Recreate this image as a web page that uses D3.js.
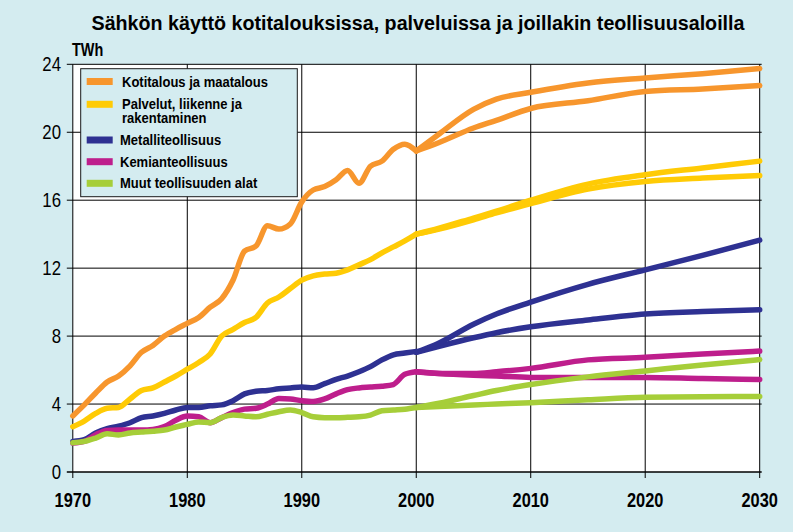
<!DOCTYPE html>
<html><head><meta charset="utf-8">
<script src="https://cdn.jsdelivr.net/npm/d3@7"></script>
<style>
html,body{margin:0;padding:0;background:#d4ecf0;}
svg{display:block;}
text{font-family:"Liberation Sans",Arial,sans-serif;fill:#000;}
</style></head>
<body><svg id="c" width="793" height="532"></svg>
<script>
const title = "Sähkön käyttö kotitalouksissa, palveluissa ja joillakin teollisuusaloilla";
const unitLabel = "TWh";
const xTicks = [1970, 1980, 1990, 2000, 2010, 2020, 2030];
const yTicks = [0, 4, 8, 12, 16, 20, 24];

const seriesNames = ["Kotitalous ja maatalous", "Palvelut, liikenne ja rakentaminen", "Metalliteollisuus", "Kemianteollisuus", "Muut teollisuuden alat"];
const seriesColors = ["#f7962d", "#ffcb05", "#2e3192", "#be1e8c", "#a6ce39"];

const histYears = d3.range(1970, 2001);
const histKoti = [3.3,3.95,4.65,5.3,5.65,6.25,7.05,7.45,8.0,8.4,8.75,9.1,9.7,10.2,11.3,13.0,13.3,14.5,14.3,14.6,15.9,16.6,16.8,17.2,17.75,17.0,18.0,18.3,19.0,19.3,18.9];
const histPalv = [2.67,3.0,3.45,3.75,3.8,4.3,4.8,4.95,5.3,5.65,6.05,6.45,6.95,8.0,8.4,8.8,9.1,9.95,10.3,10.8,11.3,11.55,11.65,11.7,11.9,12.2,12.5,12.9,13.25,13.6,14.0];
const histMeta = [1.8,1.9,2.3,2.55,2.7,2.9,3.2,3.3,3.45,3.65,3.8,3.8,3.9,3.95,4.2,4.6,4.75,4.8,4.9,4.95,5.0,4.96,5.2,5.45,5.65,5.9,6.2,6.6,6.9,7.0,7.1];
const histKemi = [1.7,1.8,2.2,2.45,2.47,2.47,2.47,2.5,2.67,3.05,3.3,3.25,2.9,3.2,3.5,3.7,3.75,4.0,4.33,4.3,4.2,4.15,4.3,4.6,4.85,4.95,5.0,5.05,5.15,5.75,5.9];
const histMuut = [1.72,1.8,2.0,2.25,2.18,2.3,2.35,2.4,2.47,2.65,2.8,2.95,2.9,3.2,3.35,3.3,3.25,3.4,3.55,3.65,3.5,3.25,3.2,3.2,3.22,3.25,3.35,3.6,3.65,3.7,3.8];

const projYears = [2000, 2002, 2005, 2007, 2010, 2015, 2020, 2025, 2030];
const projKotiHigh = [18.9,19.9,21.35,21.95,22.35,22.9,23.2,23.45,23.75];
const projKotiLow  = [18.9,19.4,20.25,20.7,21.4,21.85,22.4,22.55,22.75];
const projPalvHigh = [14.0,14.35,14.95,15.35,16.0,16.95,17.5,17.9,18.3];
const projPalvLow  = [14.0,14.3,14.85,15.25,15.8,16.65,17.1,17.3,17.45];
const projMetaHigh = [7.05,7.6,8.7,9.3,10.0,11.05,11.9,12.75,13.65];
const projMetaLow  = [7.05,7.4,7.9,8.2,8.55,8.95,9.3,9.45,9.55];
const projKemiHigh = [5.9,5.8,5.8,5.9,6.1,6.6,6.75,6.95,7.12];
const projKemiLow  = [5.9,5.8,5.7,5.65,5.57,5.57,5.57,5.5,5.45];
const projMuutHigh = [3.8,4.05,4.5,4.8,5.15,5.6,5.95,6.3,6.62];
const projMuutLow  = [3.8,3.85,3.95,4.0,4.08,4.25,4.4,4.43,4.45];

const hist = [histKoti, histPalv, histMeta, histKemi, histMuut];
const projHigh = [projKotiHigh, projPalvHigh, projMetaHigh, projKemiHigh, projMuutHigh];
const projLow = [projKotiLow, projPalvLow, projMetaLow, projKemiLow, projMuutLow];

const svg = d3.select("#c");
const L = 72.8, R = 759.7, T = 64.3, B = 472;
const x = d3.scaleLinear().domain([1970, 2030]).range([L, R]);
const y = d3.scaleLinear().domain([0, 24]).range([B, T]);

// narrow text helper (emulates a condensed face)
function ntext(parent, px, py, str, size, weight, anchor, sx) {
  const gg = parent.append("g").attr("transform", `translate(${px},${py}) scale(${sx || 0.84},1)`);
  return gg.append("text").attr("x", 0).attr("y", 0).attr("font-size", size)
    .attr("font-weight", weight || "normal").attr("text-anchor", anchor || "start").text(str);
}

svg.append("rect").attr("width", 793).attr("height", 532).attr("fill", "#d4ecf0");
svg.append("rect").attr("x", L).attr("y", T).attr("width", R - L).attr("height", B - T).attr("fill", "#fff");

// gridlines
const g = svg.append("g");
g.selectAll("line.v").data(xTicks).join("line")
  .attr("x1", d => x(d)).attr("x2", d => x(d)).attr("y1", T).attr("y2", B + 6)
  .attr("stroke", "#000").attr("stroke-width", 1);
g.selectAll("line.h").data(yTicks).join("line")
  .attr("x1", L - 6).attr("x2", R + 2).attr("y1", d => y(d)).attr("y2", d => y(d))
  .attr("stroke", "#000").attr("stroke-width", d => d === 0 ? 1.5 : 1);

// axis labels
const ya = svg.append("g");
yTicks.forEach(d => ntext(ya, 61, y(d) + 7, String(d), 20, "normal", "end", 0.84));
const xa = svg.append("g");
xTicks.forEach(d => ntext(xa, x(d), 507, String(d), 20, "bold", "middle", 0.82));

svg.append("text").attr("x", 418).attr("y", 30).attr("text-anchor", "middle")
  .attr("font-size", 20).attr("font-weight", "bold")
  .attr("textLength", 653).attr("lengthAdjust", "spacingAndGlyphs").text(title);
ntext(svg, 72, 56, unitLabel, 18.5, "bold", "start", 0.78);

// lines
const line = d3.line().x(d => x(d[0])).y(d => y(d[1])).curve(d3.curveMonotoneX);
const lg = svg.append("g").attr("fill", "none").attr("stroke-linejoin", "round").attr("stroke-linecap", "round");
hist.forEach((vals, i) => {
  const col = seriesColors[i];
  [projLow[i], projHigh[i]].forEach(p => {
    lg.append("path").attr("d", line(projYears.map((yr, k) => [yr, p[k]])))
      .attr("stroke", col).attr("stroke-width", 5.5);
  });
  lg.append("path").attr("d", line(histYears.map((yr, k) => [yr, vals[k]])))
    .attr("stroke", col).attr("stroke-width", 5.5);
});

// legend
const leg = svg.append("g");
leg.append("rect").attr("x", 80.7).attr("y", 68.7).attr("width", 216.6).attr("height", 128)
  .attr("fill", "#d4ecf0").attr("stroke", "#1a1a1a").attr("stroke-width", 1);
const legY = [81.5, 104.3, 140, 161.7, 183.3];
seriesNames.forEach((n, i) => {
  leg.append("rect").attr("x", 86.7).attr("y", legY[i] - 3.5).attr("width", 26).attr("height", 7).attr("fill", seriesColors[i]);
  const tx = i < 2 ? 122 : 120;
  if (i === 1) {
    ntext(leg, tx, legY[i] + 4.5, "Palvelut, liikenne ja", 14, "bold", "start", 0.93);
    ntext(leg, tx, legY[i] + 18.5, "rakentaminen", 14, "bold", "start", 0.93);
  } else ntext(leg, tx, legY[i] + 5, n, 14, "bold", "start", 0.93);
});
</script></body></html>
